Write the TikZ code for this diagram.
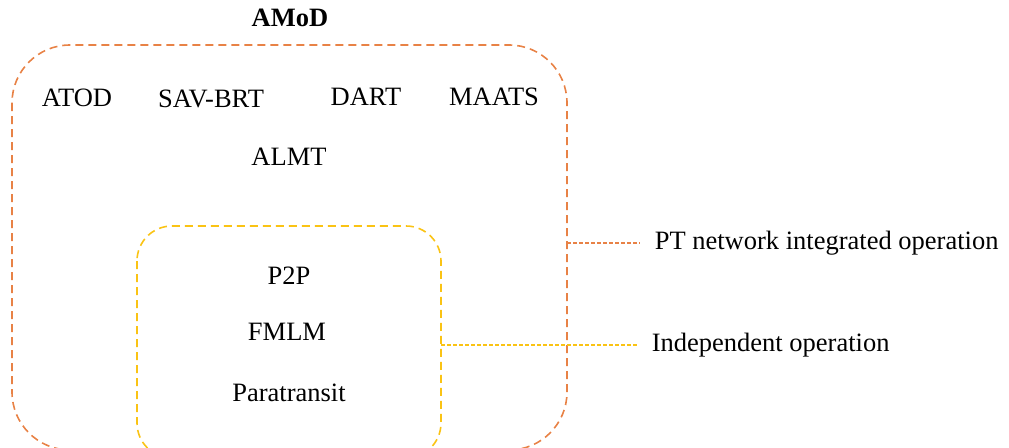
\documentclass[tikz,border=0pt]{standalone}
\usepackage{fontspec}
\setmainfont{Liberation Serif}
\usetikzlibrary{positioning}
\definecolor{amodorange}{RGB}{232,130,70}
\definecolor{indyellow}{RGB}{250,195,20}

\begin{document}
\begin{tikzpicture}[x=1pt,y=-1pt,line width=1.6pt,
  lbl/.style={anchor=center,inner sep=1pt,font=\fontsize{26.5}{30}\selectfont},
  side/.style={anchor=west,inner ysep=0pt,inner xsep=14pt,font=\fontsize{26.5}{30}\selectfont},
  outerbox/.style={draw=amodorange,dash pattern=on 8pt off 5pt,rounded corners=58pt},
  innerbox/.style={draw=indyellow,dash pattern=on 8pt off 5pt,rounded corners=35pt},
  link/.style={line width=1.4pt,dash pattern=on 4pt off 2pt}]
\path[use as bounding box] (0,0) rectangle (1009,447);
\clip (0,0) rectangle (1009,447);
% boxes
\draw[outerbox] (12,45) rectangle (567,450);
\draw[innerbox] (137,226) rectangle (441,458);
% labels
\node[lbl,font=\fontsize{26.5}{30}\selectfont\bfseries] (amod) at (290,18) {AMoD};
\node[lbl] (atod) at (77,98) {ATOD};
\node[lbl] (savbrt) at (211,99) {SAV-BRT};
\node[lbl] (dart) at (366,97) {DART};
\node[lbl] (maats) at (494,97) {MAATS};
\node[lbl] (almt) at (289,157) {ALMT};
\node[lbl] (ptp) at (289,276) {P2P};
\node[lbl] (fmlm) at (287,332) {FMLM};
\node[lbl] (para) at (289,393) {Paratransit};
% legend
\coordinate (outerR) at (567,243);
\coordinate (innerR) at (441,345);
\node[side] (ptint) at (640,243) {PT network integrated operation};
\node[side] (indep) at (637,345) {Independent operation};
\draw[link,amodorange] (outerR) -- (ptint.west);
\draw[link,indyellow] (innerR) -- (indep.west);
\end{tikzpicture}
\end{document}
